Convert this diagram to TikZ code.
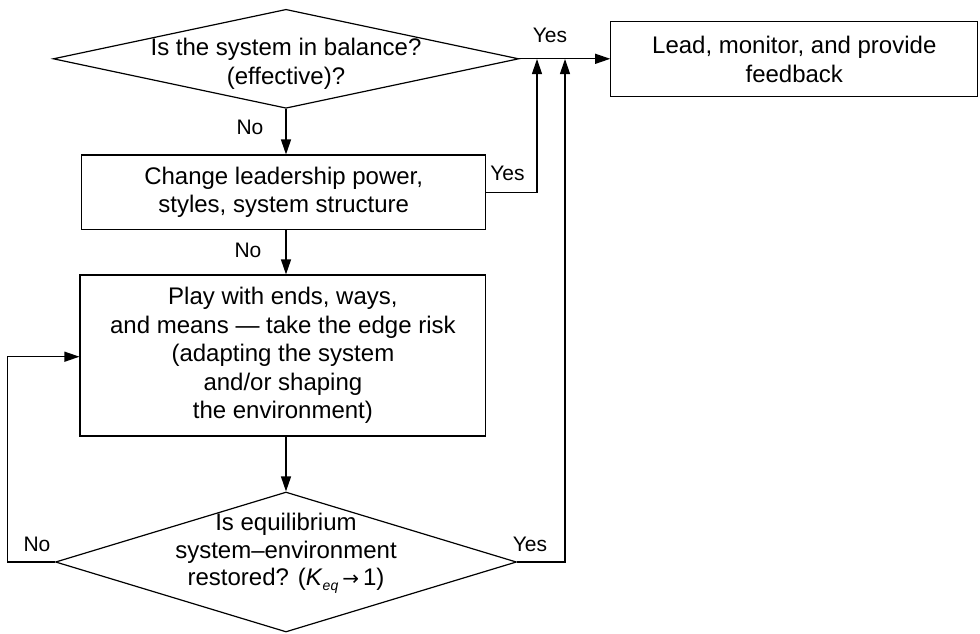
\documentclass[tikz,border=0pt]{standalone}
\usepackage{fontspec}
\setmainfont{Liberation Sans}
\newfontfamily\arrowfont{DejaVu Sans}
\usetikzlibrary{shapes.geometric,arrows.meta}
\begin{document}
\begin{tikzpicture}[x=1pt,y=-1pt,
  line width=1.2pt,
  boxnode/.style={draw, rectangle, inner sep=0pt, align=center, font=\fontsize{24}{28.5}\selectfont},
  decnode/.style={draw, diamond, inner sep=0pt},
  txt/.style={align=center, inner sep=0pt, font=\fontsize{24}{28.5}\selectfont},
  lbl/.style={inner sep=0pt, font=\fontsize{21}{24}\selectfont},
  arr/.style={-{Triangle[length=15pt,width=10pt]}}
]
\useasboundingbox (0,0) rectangle (980,633);

% decision 1
\node[decnode, minimum width=465.6pt, minimum height=99pt] (d1) at (286,58.8) {};
\node[txt] (t1) at (286,64) {Is the system in balance?\\(effective)?};

% box 1
\node[boxnode, minimum width=367pt, minimum height=75pt] (b1) at (794.3,59.2) {Lead, monitor, and provide\\feedback};

% box 2
\node[boxnode, minimum width=404pt, minimum height=74.3pt] (b2) at (283.7,192.2) {Change leadership power,\\styles, system structure};

% box 3
\node[boxnode, minimum width=405.7pt, minimum height=161pt] (b3) at (282.9,355.5) {Play with ends, ways,\\and means --- take the edge risk\\(adapting the system\\and/or shaping\\the environment)};

% decision 2
\node[decnode, minimum width=461pt, minimum height=140pt] (d2) at (286,562) {};
\node[txt, font=\fontsize{24}{27.5}\selectfont] (t2) at (286,553.5) {Is equilibrium\\system–environment\\restored? (\textit{K}\raisebox{-5pt}{\fontsize{14}{14}\selectfont\itshape eq}\,{\arrowfont\fontsize{20}{20}\selectfont →}\,1)};

% junction coordinates
\coordinate (j1) at (537,59);
\coordinate (j2) at (565,59);
\coordinate (l1) at (7.3,356.7);

% connectors
\draw[arr] (d1.east) -- (d1.east -| b1.west);
\draw[arr] (d1.south) -- (d1.south |- b2.north);
\draw[arr] (b2.east) -| (j1);
\draw[arr] (d1.south |- b2.south) -- (d1.south |- b3.north);
\draw[arr] (d1.south |- b3.south) -- (d2.north);
\draw[arr] (d2.west) -- (d2.west -| l1) -- (l1) -- (l1 -| b3.west);
\draw[arr] (d2.east) -| (j2);

% labels
\node[lbl] (y1) at (550,35) {Yes};
\node[lbl] (n1) at (250,127) {No};
\node[lbl] (y2) at (507.5,173) {Yes};
\node[lbl] (n2) at (248,250) {No};
\node[lbl] (n3) at (37,544) {No};
\node[lbl] (y3) at (530,544) {Yes};
\end{tikzpicture}
\end{document}
